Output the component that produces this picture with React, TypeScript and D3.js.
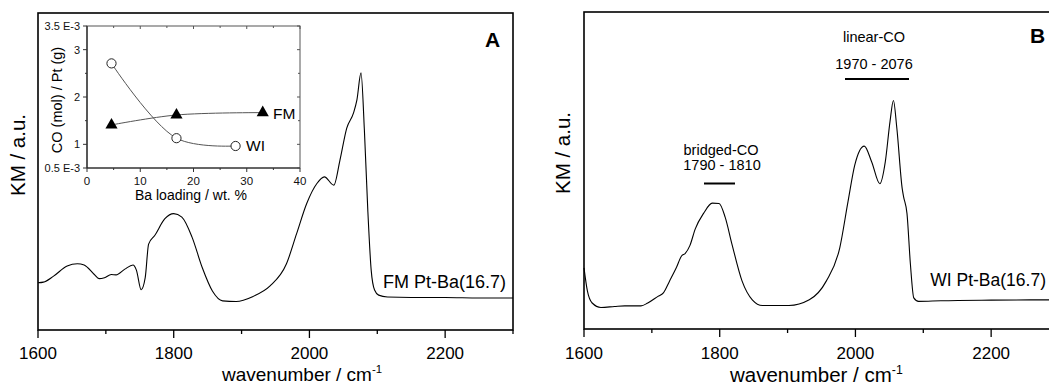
import React from "react";
import * as d3 from "d3";

// ---------- Panel A : FM Pt-Ba(16.7) ----------
const WN_A = [1600, 1608, 1623, 1643, 1658, 1668, 1683, 1690, 1698, 1708, 1715, 1728, 1740, 1745, 1752, 1758, 1763, 1772, 1787, 1800, 1812, 1827, 1842, 1857, 1872, 1892, 1917, 1942, 1966, 1981, 1996, 2011, 2022, 2036, 2045, 2055, 2065, 2070, 2076, 2081, 2086, 2091, 2096, 2102, 2115, 2150, 2200, 2250, 2300];
const KM_A = [14.9, 15.1, 17.0, 20.2, 20.9, 20.5, 17.5, 16.2, 16.5, 17.5, 17.4, 19.2, 20.5, 18.9, 12.7, 16.5, 27.1, 29.8, 35.1, 36.7, 35.6, 29.3, 19.7, 12.3, 9.2, 9.0, 10.6, 13.9, 20.8, 30.3, 39.9, 46.2, 48.3, 45.7, 53.6, 63.7, 68.5, 72.6, 81.1, 63.0, 37.9, 18.9, 12.6, 11.0, 10.4, 10.25, 10.25, 10.1, 10.1];

// ---------- Panel B : WI Pt-Ba(16.7) ----------
const WN_B = [1600, 1605, 1612, 1625, 1645, 1660, 1684, 1694, 1709, 1717, 1726, 1736, 1744, 1749, 1756, 1764, 1776, 1789, 1799, 1808, 1818, 1833, 1848, 1863, 1902, 1932, 1957, 1977, 1989, 1999, 2013, 2024, 2036, 2044, 2051, 2056, 2061, 2069, 2071, 2076, 2081, 2086, 2093, 2126, 2200, 2283, 2300];
const KM_B = [19.3, 12.0, 8.2, 6.8, 7.1, 7.3, 7.3, 8.2, 10.3, 11.4, 15.1, 19.3, 23.1, 23.8, 26.3, 31.6, 36.4, 39.7, 39.6, 35.3, 26.8, 15.1, 9.2, 7.4, 7.4, 9.2, 15.1, 25.7, 40.1, 51.7, 57.7, 52.7, 45.8, 52.7, 65.5, 72.1, 63.4, 44.2, 41.7, 36.4, 20.5, 9.8, 8.7, 8.9, 9.1, 9.2, 9.2];

// ---------- Inset ----------
const BA_FM = [4.6, 16.8, 33.0];
const CO_FM = [1.41, 1.62, 1.67];
const BA_WI = [4.6, 16.8, 27.9];
const CO_WI = [2.71, 1.13, 0.965];
const INSET_X_TICKS = [0, 10, 20, 30, 40];
const INSET_X_MINOR = [5, 15, 25, 35];
const INSET_Y_TICKS = [0.5, 1, 2, 3, 3.5];
const INSET_Y_LABELS = ["0.5 E-3", "1", "2", "3", "3.5 E-3"];
const INSET_Y_MINOR = [1.5, 2.5];

// ---------- Axes ----------
const X_TICKS = [1600, 1800, 2000, 2200];
const X_MINOR = [1700, 1900, 2100, 2300];
const X_DOMAIN = [1600, 2300];
const Y_DOMAIN = [0, 100];

const FONT = "Arial, 'Liberation Sans', sans-serif";

function Panel({ x0, x1, y0, y1, wn, km, label, letter, letterX, letterY, titleX, titleY, titleSize, yTitleX, yTitleY, specLabelX, specLabelY, specSize, children }) {
  const x = d3.scaleLinear().domain(X_DOMAIN).range([x0, x1]);
  const y = d3.scaleLinear().domain(Y_DOMAIN).range([y1, y0]);
  const line = d3
    .line<number>()
    .x((_, i) => x(wn[i]))
    .y((d) => y(d))
    .curve(d3.curveMonotoneX);
  return (
    <g>
      <path d={line(km) || ""} fill="none" stroke="#000" strokeWidth={1.1} />
      <rect x={x0} y={y0} width={x1 - x0} height={y1 - y0} fill="none" stroke="#000" strokeWidth={1.6} />
      {X_TICKS.map((t) => (
        <g key={t}>
          <line x1={x(t)} x2={x(t)} y1={y1} y2={y1 + 8} stroke="#000" strokeWidth={1.3} />
          <text x={x(t)} y={359} textAnchor="middle" fontSize={17} fontFamily={FONT}>{t}</text>
        </g>
      ))}
      {X_MINOR.map((t) => (
        <line key={t} x1={x(t)} x2={x(t)} y1={y1} y2={y1 + 4} stroke="#000" strokeWidth={1.3} />
      ))}
      <text x={titleX} y={titleY} fontSize={titleSize} fontFamily={FONT}>
        wavenumber / cm<tspan dy={-titleSize * 0.4} fontSize={titleSize * 0.6}>-1</tspan>
      </text>
      <text transform={`translate(${yTitleX},${yTitleY}) rotate(-90)`} textAnchor="middle" fontSize={20.5} fontFamily={FONT}>KM / a.u.</text>
      <text x={letterX} y={letterY} fontSize={21} fontWeight="bold" fontFamily={FONT}>{letter}</text>
      <text x={specLabelX} y={specLabelY} textAnchor="end" fontSize={specSize} fontFamily={FONT}>{label}</text>
      {children}
    </g>
  );
}

function Inset() {
  const ix = d3.scaleLinear().domain([0, 40]).range([87, 300]);
  const iy = d3.scaleLinear().domain([0.5, 3.5]).range([168, 26]);
  const mk = (xs: number[]) =>
    d3
      .line<number>()
      .x((_, i) => ix(xs[i]))
      .y((d) => iy(d))
      .curve(d3.curveCatmullRom.alpha(0.5));
  const tri = d3.symbol().type(d3.symbolTriangle).size(64)();
  return (
    <g>
      <rect x={87} y={26} width={213} height={142} fill="#fff" stroke="#555" strokeWidth={1} />
      <line x1={87} x2={87} y1={26} y2={168} stroke="#222" strokeWidth={1.2} />
      <line x1={87} x2={300} y1={168} y2={168} stroke="#222" strokeWidth={1.2} />
      {INSET_X_TICKS.map((t) => (
        <g key={t}>
          <line x1={ix(t)} x2={ix(t)} y1={168} y2={172} stroke="#333" />
          <line x1={ix(t)} x2={ix(t)} y1={26} y2={29} stroke="#555" />
          <text x={ix(t)} y={185} textAnchor="middle" fontSize={11.5} fontFamily={FONT} fill="#111">{t}</text>
        </g>
      ))}
      {INSET_X_MINOR.map((t) => (
        <g key={t}>
          <line x1={ix(t)} x2={ix(t)} y1={168} y2={170} stroke="#333" />
          <line x1={ix(t)} x2={ix(t)} y1={26} y2={28} stroke="#555" />
        </g>
      ))}
      {INSET_Y_TICKS.map((t, i) => (
        <g key={t}>
          <line x1={83} x2={87} y1={iy(t)} y2={iy(t)} stroke="#333" />
          <line x1={297} x2={300} y1={iy(t)} y2={iy(t)} stroke="#555" />
          <text x={80} y={iy(t) + 4} textAnchor="end" fontSize={11} fontFamily={FONT} fill="#111">{INSET_Y_LABELS[i]}</text>
        </g>
      ))}
      {INSET_Y_MINOR.map((t) => (
        <g key={t}>
          <line x1={85} x2={87} y1={iy(t)} y2={iy(t)} stroke="#333" />
          <line x1={298} x2={300} y1={iy(t)} y2={iy(t)} stroke="#555" />
        </g>
      ))}
      <path d={mk(BA_WI)(CO_WI) || ""} fill="none" stroke="#555" strokeWidth={1} />
      <path d={mk(BA_FM)(CO_FM) || ""} fill="none" stroke="#555" strokeWidth={1} />
      {BA_WI.map((b, i) => (
        <circle key={b} cx={ix(b)} cy={iy(CO_WI[i])} r={4.6} fill="#fff" stroke="#222" strokeWidth={1} />
      ))}
      {BA_FM.map((b, i) => (
        <path key={b} d={tri || ""} transform={`translate(${ix(b)},${iy(CO_FM[i])})`} fill="#000" />
      ))}
      <text x={273} y={119} fontSize={15.5} fontFamily={FONT}>FM</text>
      <text x={246} y={151} fontSize={15.5} fontFamily={FONT}>WI</text>
      <text transform="translate(62,100) rotate(-90)" textAnchor="middle" fontSize={14.5} fontFamily={FONT}>CO (mol) / Pt (g)</text>
      <text x={191} y={200} textAnchor="middle" fontSize={14} fontFamily={FONT}>Ba loading / wt. %</text>
    </g>
  );
}

export default function App() {
  return (
    <svg width={1049} height={386} style={{ position: "absolute", left: 0, top: 0, background: "#fff" }}>
      <Panel x0={38} x1={513} y0={13} y1={330} wn={WN_A} km={KM_A} label="FM Pt-Ba(16.7)" letter="A" letterX={485} letterY={47}
        titleX={222} titleY={381} titleSize={19} yTitleX={25} yTitleY={155} specLabelX={506} specLabelY={288} specSize={18}>
        <Inset />
      </Panel>
      <Panel x0={584} x1={1059} y0={12} y1={329} wn={WN_B} km={KM_B} label="WI Pt-Ba(16.7)" letter="B" letterX={1030} letterY={43}
        titleX={730} titleY={382} titleSize={20.5} yTitleX={570} yTitleY={153} specLabelX={1046} specLabelY={286} specSize={17.5}>
        <g fontFamily={FONT} fontSize={14.5}>
          <text x={721} y={155} textAnchor="middle">bridged-CO</text>
          <text x={722} y={170} textAnchor="middle">1790 - 1810</text>
          <line x1={704} x2={735} y1={183.5} y2={183.5} stroke="#000" strokeWidth={2} />
          <text x={874} y={42} textAnchor="middle">linear-CO</text>
          <text x={874} y={69} textAnchor="middle">1970 - 2076</text>
          <line x1={845} x2={909} y1={79} y2={79} stroke="#000" strokeWidth={2} />
        </g>
      </Panel>
    </svg>
  );
}
